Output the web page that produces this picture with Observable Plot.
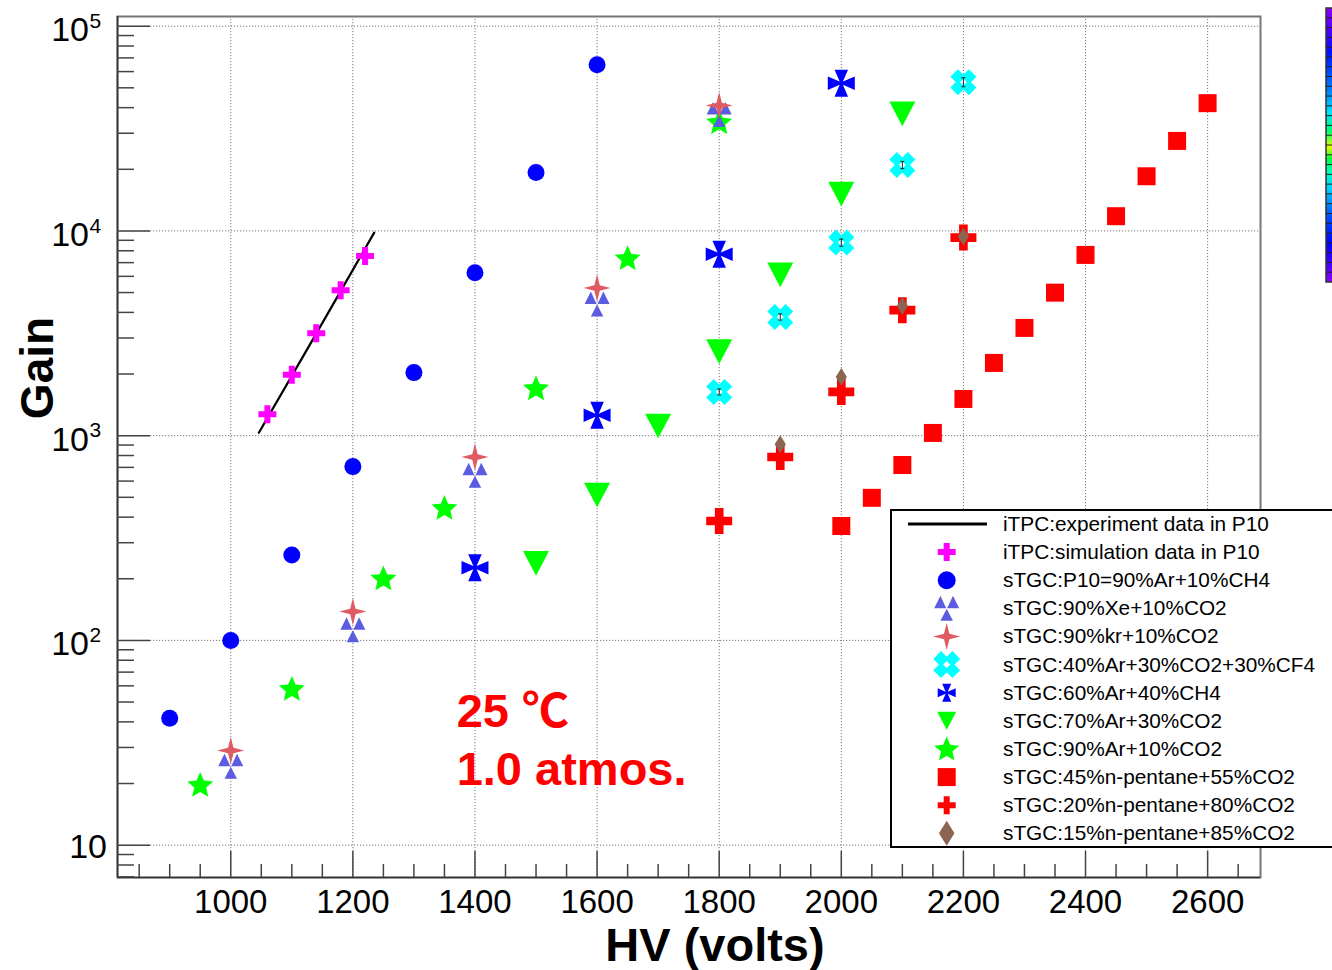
<!DOCTYPE html>
<html><head><meta charset="utf-8">
<script src="https://cdn.jsdelivr.net/npm/d3@7"></script>
<script src="https://cdn.jsdelivr.net/npm/@observablehq/plot@0.6"></script>
<style>
html,body{margin:0;padding:0;background:#fff;}
#chart svg{display:block;}
</style></head><body><div id="chart"></div>
<script>
// ---------------- data ----------------
const expHV   = [1046, 1100, 1140, 1180, 1220, 1235];
const expGain = [1034, 1960, 3150, 5080, 8200, 9810];

const simHV   = [1060, 1100, 1140, 1180, 1220];
const simGain = [1273, 1982, 3167, 5132, 7550];

const p10HV   = [900, 1000, 1100, 1200, 1300, 1400, 1500, 1600];
const p10Gain = [41.7, 100, 261, 706, 2032, 6253, 19270, 64780];

const xeHV    = [1000, 1200, 1400, 1600, 1800];
const xeGain  = [24.3, 112.8, 640, 4400, 37000];

const krHV    = [1000, 1200, 1400, 1600, 1800];
const krGain  = [29, 138.5, 787, 5267, 41000];

const cf4HV   = [1800, 1900, 2000, 2100, 2200];
const cf4Gain = [1635, 3800, 8770, 21000, 53300];
const cf4Err  = [55, 130, 350, 850, 2700];

const ch4HV   = [1400, 1600, 1800, 2000];
const ch4Gain = [226.6, 1258, 7693, 52670];

const ar70HV   = [1500, 1600, 1700, 1800, 1900, 2000, 2100];
const ar70Gain = [238, 513, 1115, 2571, 6095, 15110, 37300];

const ar90HV   = [950, 1100, 1250, 1350, 1500, 1650, 1800];
const ar90Gain = [19.7, 58, 200.8, 443.6, 1704, 7357, 34000];

const pent45HV   = [2000, 2050, 2100, 2150, 2200, 2250, 2300, 2350, 2400, 2450, 2500, 2550, 2600];
const pent45Gain = [362, 497, 719, 1031, 1511, 2266, 3360, 4995, 7635, 11800, 18490, 27520, 42070];

const pent20HV   = [1800, 1900, 2000, 2100, 2200];
const pent20Gain = [383, 787, 1635, 4100, 9274];

const pent15HV   = [1900, 2000, 2100, 2200];
const pent15Gain = [908, 1935, 4302, 9380];

const legendLabels = [
  "iTPC:experiment data in P10",
  "iTPC:simulation data in P10",
  "sTGC:P10=90%Ar+10%CH4",
  "sTGC:90%Xe+10%CO2",
  "sTGC:90%kr+10%CO2",
  "sTGC:40%Ar+30%CO2+30%CF4",
  "sTGC:60%Ar+40%CH4",
  "sTGC:70%Ar+30%CO2",
  "sTGC:90%Ar+10%CO2",
  "sTGC:45%n-pentane+55%CO2",
  "sTGC:20%n-pentane+80%CO2",
  "sTGC:15%n-pentane+85%CO2"
];

const xTickLabels = [1000, 1200, 1400, 1600, 1800, 2000, 2200, 2400, 2600];
const yTickValues = [10, 100, 1000, 10000, 100000];
const yTickBase   = ["10", "10", "10", "10", "10"];
const yTickExp    = ["", "2", "3", "4", "5"];

const noteTexts = ["25 ℃", "1.0 atmos."];
const noteHV    = [1370, 1370];
const noteGain  = [37.6, 19.6];

const xLabel = "HV (volts)";
const yLabel = "Gain";

// ---------------- layout ----------------
const W = 1332, H = 970;
const M = {left: 117, right: 72, top: 16, bottom: 93};
const innerW = W - M.left - M.right;
const innerH = H - M.top - M.bottom;
const xDomain = [814.5, 2686.6];
const yDomain = [6.95, 111500];

const xMinor = d3.range(850, 2651, 50).filter(v => v % 200 !== 0);
const yMinor = [7, 8, 9];
for (const d of [10, 100, 1000, 10000]) for (let k = 2; k <= 9; k++) yMinor.push(k * d);

// ---------------- custom marker shapes (ROOT-like) ----------------
const R = s => Math.sqrt(s / Math.PI);
function poly(c, pts) { c.moveTo(pts[0][0], pts[0][1]); for (let i = 1; i < pts.length; i++) c.lineTo(pts[i][0], pts[i][1]); c.closePath(); }
const shapes = {
  cross: {draw(c, s) { const r = R(s), t = r / 3;
    poly(c, [[-t,-r],[t,-r],[t,-t],[r,-t],[r,t],[t,t],[t,r],[-t,r],[-t,t],[-r,t],[-r,-t],[-t,-t]]); }},
  circle: {draw(c, s) { const r = R(s); c.moveTo(r, 0); c.arc(0, 0, r, 0, 2 * Math.PI); }},
  threeTri: {draw(c, s) { const r = R(s), g = r * 0.04;
    poly(c, [[-r/2, -r], [-g, 0], [-r, 0]]);
    poly(c, [[r/2, -r], [r, 0], [g, 0]]);
    poly(c, [[0, g], [r/2, r], [-r/2, r]]); }},
  fourStar: {draw(c, s) { const r = R(s), w = 0.2 * r;
    poly(c, [[0,-r],[w,-w],[r,0],[w,w],[0,r],[-w,w],[-r,0],[-w,-w]]); }},
  fourSquaresX: {draw(c, s) { const r = R(s), a = 0.42 * r, h = 0.58 * r;
    for (const [sx, sy] of [[1,1],[-1,1],[-1,-1],[1,-1]]) {
      const cx = sx * a, cy = sy * a;
      poly(c, [[cx, cy - h], [cx + h, cy], [cx, cy + h], [cx - h, cy]]);
    }}},
  fourTriPlus: {draw(c, s) { const r = R(s), w = 0.5 * r, q = 0.12 * r;
    poly(c, [[-w,-r],[w,-r],[q,-q],[r,-w],[r,w],[q,q],[w,r],[-w,r],[-q,q],[-r,w],[-r,-w],[-q,-q]]); }},
  triDown: {draw(c, s) { const r = R(s), h = 0.95 * r;
    poly(c, [[-r,-h],[r,-h],[0,h]]); }},
  star: {draw(c, s) { const r = R(s), Ro = r / 0.951, Ri = Ro * 0.46, pts = [];
    for (let k = 0; k < 10; k++) { const a = -Math.PI/2 + k * Math.PI / 5, rr = k % 2 ? Ri : Ro; pts.push([rr * Math.cos(a), rr * Math.sin(a) + 0.06 * Ro]); }
    poly(c, pts); }},
  square: {draw(c, s) { const r = R(s); poly(c, [[-r,-r],[r,-r],[r,r],[-r,r]]); }},
  diamond: {draw(c, s) { const r = R(s), w = 0.62 * r; poly(c, [[0,-r],[w,0],[0,r],[-w,0]]); }},
  cap: {draw(c, s) { const r = R(s); c.moveTo(-r, 0); c.lineTo(r, 0); }}
};

// ---------------- build tables ----------------
const zip = (hv, g) => hv.map((v, i) => ({hv: v, gain: g[i]}));
const expData = zip(expHV, expGain);
const cf4Data = cf4HV.map((v, i) => ({hv: v, gain: cf4Gain[i], lo: cf4Gain[i] - cf4Err[i], hi: cf4Gain[i] + cf4Err[i]}));

// styles (legend order, index 1..11 = marker series)
const seriesStyle = [
  null,
  {data: zip(simHV, simGain),       fill: "#ff00ff", shape: "cross",        r: 9,    lr: 9},
  {data: zip(p10HV, p10Gain),       fill: "#0000ff", shape: "circle",       r: 8.5,  lr: 9},
  {data: zip(xeHV, xeGain),         fill: "#5c5ce0", shape: "threeTri",     r: 12.5, lr: 12.5},
  {data: zip(krHV, krGain),         fill: "#e05a62", shape: "fourStar",     r: 13.5, lr: 13.5},
  {data: cf4Data,                   fill: "#00ffff", shape: "fourSquaresX", r: 13,   lr: 13.5},
  {data: zip(ch4HV, ch4Gain),       fill: "#0000ff", shape: "fourTriPlus",  r: 13.5, lr: 9},
  {data: zip(ar70HV, ar70Gain),     fill: "#00ff00", shape: "triDown",      r: 13,   lr: 9.5},
  {data: zip(ar90HV, ar90Gain),     fill: "#00ff00", shape: "star",         r: 13,   lr: 12.5},
  {data: zip(pent45HV, pent45Gain), fill: "#ff0000", shape: "square",       r: 9,    lr: 9},
  {data: zip(pent20HV, pent20Gain), fill: "#ff0000", shape: "cross",        r: 13,   lr: 9},
  {data: zip(pent15HV, pent15Gain), fill: "#8b6452", shape: "diamond",      r: 9,    lr: 12.5}
];
const drawOrder = [1, 2, 8, 3, 4, 5, 6, 7, 9, 10, 11];
const dotMark = i => { const st = seriesStyle[i];
  return Plot.dot(st.data, {x: "hv", y: "gain", symbol: shapes[st.shape], r: st.r, fill: st.fill, stroke: "none"}); };

const notes = noteTexts.map((t, i) => ({text: t, hv: noteHV[i], gain: noteGain[i]}));
const yLab = yTickValues.map((v, i) => ({v, base: yTickBase[i], exp: yTickExp[i]}));

const font = "'Liberation Sans', Arial, Helvetica, sans-serif";
const tickColor = "#444";

const marks = [
  // grid
  Plot.ruleX(xTickLabels, {stroke: "#777", strokeWidth: 1, strokeDasharray: "1.2,1.8"}),
  Plot.ruleY(yTickValues, {stroke: "#777", strokeWidth: 1, strokeDasharray: "1.2,1.8"}),
  // frame
  Plot.frame({stroke: "#777", strokeWidth: 2}),
  Plot.ruleY([yDomain[0]], {stroke: "#333", strokeWidth: 1.6}),
  Plot.ruleX([xDomain[0]], {stroke: "#333", strokeWidth: 1.6}),
  // inward ticks
  Plot.ruleX(xTickLabels, {stroke: tickColor, strokeWidth: 1.5, insetTop: innerH - 26}),
  Plot.ruleX(xMinor, {stroke: tickColor, strokeWidth: 1.5, insetTop: innerH - 13}),
  Plot.ruleY(yTickValues, {stroke: tickColor, strokeWidth: 1.5, insetRight: innerW - 33}),
  Plot.ruleY(yMinor, {stroke: tickColor, strokeWidth: 1.5, insetRight: innerW - 17}),
  // tick labels
  Plot.text(xTickLabels, {x: d => d, text: d => String(d), frameAnchor: "bottom", lineAnchor: "top", dy: 12, fontSize: 33, fill: "black"}),
  Plot.text(yLab.filter(d => d.exp), {y: "v", text: "base", frameAnchor: "left", textAnchor: "end", dx: -28.5, dy: 4, fontSize: 34, fill: "black"}),
  Plot.text(yLab.filter(d => !d.exp), {y: "v", text: "base", frameAnchor: "left", textAnchor: "end", dx: -10.5, dy: 2, fontSize: 34, fill: "black"}),
  Plot.text(yLab.filter(d => d.exp), {y: "v", text: "exp", frameAnchor: "left", textAnchor: "start", dx: -28, dy: -5, fontSize: 21, fill: "black"}),
  // data
  Plot.line(expData, {x: "hv", y: "gain", stroke: "black", strokeWidth: 2.2}),
  ...drawOrder.map(dotMark),
  Plot.ruleX(cf4Data, {x: "hv", y1: "lo", y2: "hi", stroke: "#222", strokeWidth: 1}),
  Plot.dot(cf4Data, {x: "hv", y: "lo", symbol: shapes.cap, r: 2, stroke: "#222", strokeWidth: 1, fill: "none"}),
  Plot.dot(cf4Data, {x: "hv", y: "hi", symbol: shapes.cap, r: 2, stroke: "#222", strokeWidth: 1, fill: "none"}),
  // annotation
  Plot.text(notes, {x: "hv", y: "gain", text: "text", textAnchor: "start", lineAnchor: "bottom", fill: "#ff0000", fontSize: 47, fontWeight: "bold", fontFamily: "'Liberation Sans', Arial, 'Noto Sans CJK SC', sans-serif"})
];

const chart = Plot.plot({
  width: W, height: H,
  marginLeft: M.left, marginRight: M.right, marginTop: M.top, marginBottom: M.bottom,
  x: {domain: xDomain, axis: null},
  y: {type: "log", domain: yDomain, axis: null},
  style: {fontFamily: font, background: "white", color: "black"},
  marks
});

// ---------------- extras drawn into the same SVG ----------------
const svg = d3.select(chart);

// axis titles
svg.append("text").attr("x", 715).attr("y", 961).attr("text-anchor", "middle")
  .attr("font-family", font).attr("font-weight", "bold").attr("font-size", 47).attr("fill", "black").text(xLabel);
svg.append("text").attr("transform", "translate(53,368) rotate(-90)").attr("text-anchor", "middle")
  .attr("font-family", font).attr("font-weight", "bold").attr("font-size", 46).attr("fill", "black").text(yLabel);

// palette bar (cropped at right edge)
const defs = svg.append("defs");
const grad = defs.append("linearGradient").attr("id", "pal").attr("x1", 0).attr("y1", 0).attr("x2", 0).attr("y2", 1);
[[0, "#8a00ff"], [0.08, "#5000ff"], [0.16, "#0010ff"], [0.3, "#0080ff"], [0.38, "#00e0ff"], [0.45, "#00ff70"],
 [0.507, "#e8ff00"], [0.55, "#00ff40"], [0.6, "#00ffc0"], [0.66, "#00d0ff"], [0.76, "#0050ff"], [0.86, "#0000ff"],
 [0.93, "#4000ff"], [1, "#9000ff"]].forEach(([o, c]) => grad.append("stop").attr("offset", o).attr("stop-color", c));
const pb = svg.append("g");
pb.append("rect").attr("x", 1326).attr("y", 8).attr("width", 10).attr("height", 274).attr("fill", "url(#pal)").attr("stroke", "#333").attr("stroke-width", 1.5);
for (let i = 1; i < 28; i++) {
  const yy = 8 + i * 274 / 28;
  pb.append("line").attr("x1", 1326).attr("x2", 1336).attr("y1", yy).attr("y2", yy).attr("stroke", "#222").attr("stroke-width", 1);
}

// legend
const lg = svg.append("g").attr("transform", "translate(891,510)");
lg.append("rect").attr("width", 480).attr("height", 337).attr("fill", "white").attr("stroke", "black").attr("stroke-width", 2);
legendLabels.forEach((lab, i) => {
  const yy = 14 + i * 28.12;
  if (i === 0) {
    lg.append("line").attr("x1", 17).attr("x2", 96).attr("y1", yy).attr("y2", yy).attr("stroke", "black").attr("stroke-width", 3);
  } else {
    const st = seriesStyle[i];
    lg.append("path").attr("transform", `translate(55.7,${yy})`)
      .attr("d", d3.symbol(shapes[st.shape], Math.PI * st.lr * st.lr)())
      .attr("fill", st.fill);
  }
  lg.append("text").attr("x", 112).attr("y", yy + 7).attr("text-anchor", "start")
    .attr("font-family", font).attr("font-size", 20.8).attr("fill", "black").text(lab);
});

document.getElementById("chart").append(chart);
</script></body></html>
